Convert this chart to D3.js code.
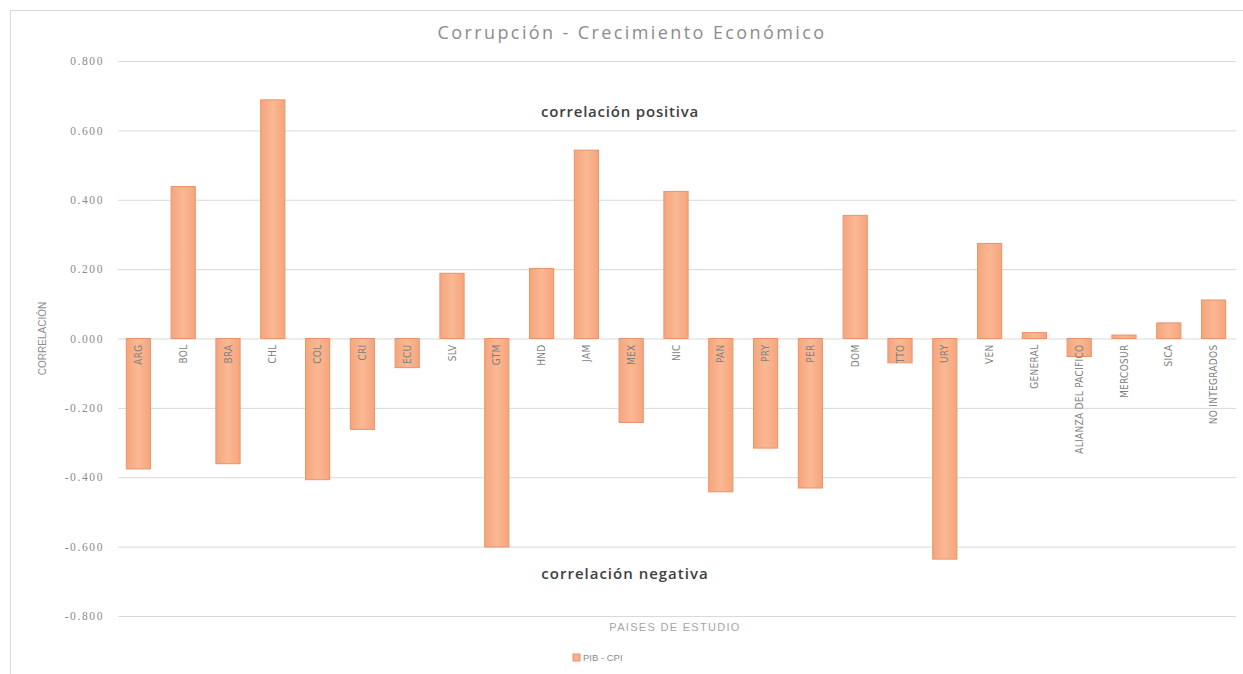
<!DOCTYPE html>
<html>
<head>
<meta charset="utf-8">
<script src="https://cdn.jsdelivr.net/npm/d3@7"></script>
<style>
  html, body { margin: 0; padding: 0; background: #ffffff; }
  svg { display: block; }
</style>
</head>
<body>
<svg id="chart" width="1243" height="674"></svg>
<script>
const categories = ["ARG","BOL","BRA","CHL","COL","CRI","ECU","SLV","GTM","HND","JAM","MEX","NIC","PAN","PRY","PER","DOM","TTO","URY","VEN","GENERAL","ALIANZA DEL PACIFICO","MERCOSUR","SICA","NO INTEGRADOS"];
const values = [-0.376, 0.438, -0.361, 0.688, -0.407, -0.262, -0.084, 0.188, -0.601, 0.202, 0.543, -0.242, 0.424, -0.442, -0.316, -0.431, 0.355, -0.070, -0.636, 0.274, 0.017, -0.052, 0.010, 0.045, 0.111];
const yTicks = [-0.8, -0.6, -0.4, -0.2, 0, 0.2, 0.4, 0.6, 0.8];
const seriesName = "PIB - CPI";
const title = "Corrupción - Crecimiento  Económico";
const yTitle = "CORRELACIÓN";
const xTitle = "PAISES DE ESTUDIO";
const noteTop = "correlación positiva";
const noteBottom = "correlación negativa";

const svg = d3.select("#chart");
const W = 1243, H = 674;
const plot = { left: 116, right: 1236, top: 61, bottom: 616 };

const x = d3.scaleBand().domain(categories).range([plot.left, plot.right]).paddingInner(0.46).paddingOuter(0.23);
const y = d3.scaleLinear().domain([-0.8, 0.8]).range([plot.bottom, plot.top]);

// frame
svg.append("line").attr("x1", 10.5).attr("x2", 10.5).attr("y1", 10).attr("y2", H).attr("stroke", "#d9d9d9");
svg.append("line").attr("x1", 10).attr("x2", W).attr("y1", 10.5).attr("y2", 10.5).attr("stroke", "#d9d9d9");

// gradient
const defs = svg.append("defs");
const grad = defs.append("linearGradient").attr("id", "barGrad").attr("x1", "0").attr("x2", "1").attr("y1", "0").attr("y2", "0");
grad.append("stop").attr("offset", "0%").attr("stop-color", "#f6a57c");
grad.append("stop").attr("offset", "50%").attr("stop-color", "#f9b894");
grad.append("stop").attr("offset", "100%").attr("stop-color", "#f6a57c");

// gridlines
const fmt = d3.format(".3f");
const yAxis = d3.axisLeft(y).tickValues(yTicks).tickFormat(d => fmt(d).replace("\u2212", "-")).tickSize(-(plot.right - plot.left - 2)).tickPadding(14);
const gy = svg.append("g").attr("transform", `translate(${plot.left + 2},0)`).call(yAxis);
gy.select(".domain").remove();
gy.selectAll(".tick line").attr("stroke", "#d9d9d9").attr("stroke-width", 1);
gy.selectAll(".tick text").attr("fill", "#8c8c8c").style("font-family", "'Liberation Serif', serif").style("font-size", "11.5px").style("letter-spacing", "1.6px");

// bars
svg.append("g").selectAll("rect").data(categories).join("rect")
  .attr("x", d => x(d))
  .attr("width", x.bandwidth())
  .attr("y", (d, i) => y(Math.max(0, values[i])))
  .attr("height", (d, i) => Math.abs(y(values[i]) - y(0)))
  .attr("fill", "url(#barGrad)")
  .attr("stroke", "#e8936a")
  .attr("stroke-width", 1);

// category labels
svg.append("g").selectAll("text").data(categories).join("text")
  .attr("transform", d => `translate(${x(d) + x.bandwidth() / 2 + 3.5},${y(0) + 6}) rotate(-90)`)
  .attr("text-anchor", "end")
  .attr("fill", "#7f7f7f")
  .style("font-family", "'Liberation Sans Narrow', 'DejaVu Sans Condensed', sans-serif")
  .style("font-size", "10px")
  .style("letter-spacing", "0.3px")
  .text(d => d);

// title
svg.append("text").attr("x", 632).attr("y", 39).attr("text-anchor", "middle")
  .attr("fill", "#8c8c8c").style("font-family", "'Open Sans', sans-serif").style("font-size", "18px")
  .style("letter-spacing", "2.4px").text(title);

// notes
svg.append("text").attr("x", 620).attr("y", 117).attr("text-anchor", "middle")
  .attr("fill", "#404040").style("font-family", "'Open Sans', sans-serif").style("font-size", "15px").style("font-weight", "600")
  .style("letter-spacing", "0.8px").text(noteTop);
svg.append("text").attr("x", 625).attr("y", 579).attr("text-anchor", "middle")
  .attr("fill", "#404040").style("font-family", "'Open Sans', sans-serif").style("font-size", "15px").style("font-weight", "600")
  .style("letter-spacing", "1px").text(noteBottom);

// axis titles
svg.append("text").attr("transform", `translate(46,${(plot.top + plot.bottom) / 2}) rotate(-90)`).attr("text-anchor", "middle")
  .attr("fill", "#8c8c8c").style("font-family", "'Liberation Sans Narrow', sans-serif").style("font-size", "10px").text(yTitle);
svg.append("text").attr("x", 675).attr("y", 631).attr("text-anchor", "middle")
  .attr("fill", "#a6a6a6").style("font-family", "'Liberation Sans Narrow', sans-serif").style("font-size", "11px")
  .style("letter-spacing", "1.3px").text(xTitle);

// legend
const lg = svg.append("g").attr("transform", "translate(573,654)");
lg.append("rect").attr("x", 0).attr("y", 0).attr("width", 7).attr("height", 7).attr("fill", "url(#barGrad)").attr("stroke", "#e8936a");
lg.append("text").attr("x", 10).attr("y", 7).attr("fill", "#8c8c8c")
  .style("font-family", "'Liberation Sans Narrow', sans-serif").style("font-size", "9.5px").text(seriesName);
</script>
</body>
</html>
